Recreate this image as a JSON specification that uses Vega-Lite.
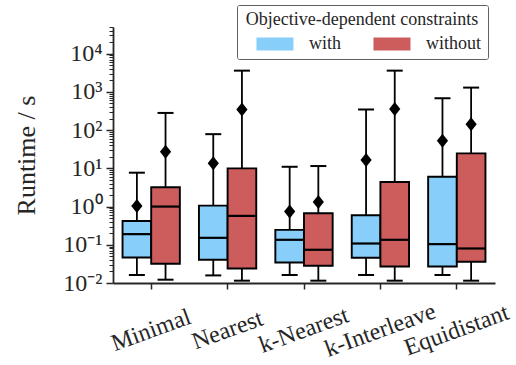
{
  "$schema": "https://vega.github.io/schema/vega-lite/v6.json",
  "width": 382,
  "height": 256,
  "autosize": "none",
  "padding": {"left": 113, "top": 27, "right": 21, "bottom": 82},
  "background": "white",
  "data": {
    "values": [
      {"method": "Minimal", "group": "with", "lo": 0.0162, "q1": 0.0466, "median": 0.19, "q3": 0.42, "hi": 7.7, "mean": 1.04},
      {"method": "Minimal", "group": "without", "lo": 0.0122, "q1": 0.0319, "median": 1.0, "q3": 3.2, "hi": 282, "mean": 27.1},
      {"method": "Nearest", "group": "with", "lo": 0.0158, "q1": 0.0406, "median": 0.152, "q3": 1.06, "hi": 78.5, "mean": 13.5},
      {"method": "Nearest", "group": "without", "lo": 0.0115, "q1": 0.024, "median": 0.57, "q3": 10, "hi": 3606, "mean": 347},
      {"method": "k-Nearest", "group": "with", "lo": 0.0162, "q1": 0.0344, "median": 0.135, "q3": 0.246, "hi": 11.0, "mean": 0.738},
      {"method": "k-Nearest", "group": "without", "lo": 0.0115, "q1": 0.0282, "median": 0.074, "q3": 0.67, "hi": 11.5, "mean": 1.32},
      {"method": "k-Interleave", "group": "with", "lo": 0.0162, "q1": 0.0457, "median": 0.108, "q3": 0.594, "hi": 347, "mean": 16.5},
      {"method": "k-Interleave", "group": "without", "lo": 0.0115, "q1": 0.0271, "median": 0.135, "q3": 4.4, "hi": 3606, "mean": 359},
      {"method": "Equidistant", "group": "with", "lo": 0.0162, "q1": 0.0271, "median": 0.104, "q3": 6.04, "hi": 683, "mean": 52.5},
      {"method": "Equidistant", "group": "without", "lo": 0.0115, "q1": 0.036, "median": 0.08, "q3": 24.6, "hi": 1298, "mean": 143}
    ]
  },
  "encoding": {
    "x": {
      "field": "method",
      "type": "nominal",
      "title": null,
      "sort": ["Minimal", "Nearest", "k-Nearest", "k-Interleave", "Equidistant"],
      "scale": {"paddingInner": 0, "paddingOuter": 0},
      "axis": {
        "labelAngle": -20,
        "labelAlign": "center",
        "labelBaseline": "middle",
        "labelPadding": 41,
        "tickSize": 6,
        "labelFontSize": 24
      }
    },
    "xOffset": {
      "field": "group",
      "type": "nominal",
      "sort": ["with", "without"],
      "scale": {"paddingInner": 0, "paddingOuter": 0.333}
    }
  },
  "layer": [
    {
      "mark": {"type": "rule", "color": "black", "strokeWidth": 1.8},
      "encoding": {
        "y": {
          "field": "lo", "type": "quantitative", "title": "Runtime / s",
          "scale": {"type": "log", "domain": [0.01, 50000], "nice": false, "zero": false}
        },
        "y2": {"field": "hi"}
      }
    },
    {
      "mark": {"type": "tick", "color": "black", "size": 16, "thickness": 2, "opacity": 1},
      "encoding": {
        "y": {
          "field": "lo", "type": "quantitative", "title": "Runtime / s",
          "scale": {"type": "log", "domain": [0.01, 50000], "nice": false, "zero": false}
        }
      }
    },
    {
      "mark": {"type": "tick", "color": "black", "size": 16, "thickness": 2, "opacity": 1},
      "encoding": {
        "y": {
          "field": "hi", "type": "quantitative", "title": "Runtime / s",
          "scale": {"type": "log", "domain": [0.01, 50000], "nice": false, "zero": false}
        }
      }
    },
    {
      "mark": {"type": "bar", "stroke": "black", "strokeWidth": 1.9, "opacity": 1},
      "encoding": {
        "y": {
          "field": "q1", "type": "quantitative", "title": "Runtime / s",
          "scale": {"type": "log", "domain": [0.01, 50000], "nice": false, "zero": false}
        },
        "y2": {"field": "q3"},
        "color": {
          "field": "group",
          "type": "nominal",
          "scale": {"domain": ["with", "without"], "range": ["#87CEFA", "#CD5C5C"]},
          "legend": {
            "title": "Objective-dependent constraints",
            "orient": "none",
            "legendX": 124,
            "legendY": -22,
            "direction": "horizontal",
            "titleAnchor": "middle",
            "titleAlign": "center",
            "titleFont": "Liberation Serif",
            "titleFontSize": 18,
            "titleFontWeight": "normal",
            "titleColor": "#262626",
            "titleLimit": 400,
            "titlePadding": 6,
            "labelFont": "Liberation Serif",
            "labelFontSize": 18,
            "labelColor": "#262626",
            "labelOffset": 48,
            "columnPadding": 18,
            "symbolType": "M0.69,-1L6.38,-1L6.38,1L0.69,1Z",
            "symbolSize": 169,
            "symbolStrokeWidth": 0,
            "symbolOpacity": 1,
            "padding": 6,
            "strokeColor": "#606060",
            "fillColor": "white",
            "cornerRadius": 2
          }
        }
      }
    },
    {
      "mark": {"type": "tick", "color": "black", "size": 29, "thickness": 2.2, "opacity": 1},
      "encoding": {
        "y": {
          "field": "median", "type": "quantitative", "title": "Runtime / s",
          "scale": {"type": "log", "domain": [0.01, 50000], "nice": false, "zero": false}
        }
      }
    },
    {
      "mark": {"type": "point", "shape": "M0,-1L0.8,0L0,1L-0.8,0Z", "size": 196, "filled": true, "color": "black", "opacity": 1},
      "encoding": {
        "y": {
          "field": "mean", "type": "quantitative", "title": "Runtime / s",
          "scale": {"type": "log", "domain": [0.01, 50000], "nice": false, "zero": false}
        }
      }
    }
  ],
  "config": {
    "font": "Liberation Serif",
    "view": {"stroke": null},
    "axis": {
      "domainColor": "#262626",
      "domainWidth": 1.8,
      "tickColor": "#262626",
      "labelColor": "#262626",
      "titleColor": "#262626",
      "labelFont": "Liberation Serif",
      "titleFont": "Liberation Serif",
      "titleFontWeight": "normal",
      "grid": false
    },
    "axisX": {"tickWidth": 1.5},
    "axisY": {
      "values": [0.01, 0.02, 0.03, 0.04, 0.05, 0.06, 0.07, 0.08, 0.09,
                 0.1, 0.2, 0.3, 0.4, 0.5, 0.6, 0.7, 0.8, 0.9,
                 1, 2, 3, 4, 5, 6, 7, 8, 9,
                 10, 20, 30, 40, 50, 60, 70, 80, 90,
                 100, 200, 300, 400, 500, 600, 700, 800, 900,
                 1000, 2000, 3000, 4000, 5000, 6000, 7000, 8000, 9000,
                 10000, 20000, 30000, 40000],
      "labelExpr": "abs(log(datum.value)/LN10 - round(log(datum.value)/LN10)) < 0.001 ? '10' + (round(log(datum.value)/LN10) < 0 ? '⁻' : '') + ['⁰','¹','²','³','⁴','⁵'][abs(round(log(datum.value)/LN10))] : ''",
      "labelOverlap": false,
      "labelFlush": false,
      "labelFontSize": 24,
      "labelPadding": 4,
      "tickSize": {"condition": {"test": "abs(log(datum.value)/LN10 - round(log(datum.value)/LN10)) < 0.001", "value": 7}, "value": 4},
      "tickWidth": {"condition": {"test": "abs(log(datum.value)/LN10 - round(log(datum.value)/LN10)) < 0.001", "value": 1.5}, "value": 1},
      "titleFontSize": 26,
      "titleBaseline": "alphabetic",
      "titleX": -79,
      "titleY": 128
    }
  }
}
